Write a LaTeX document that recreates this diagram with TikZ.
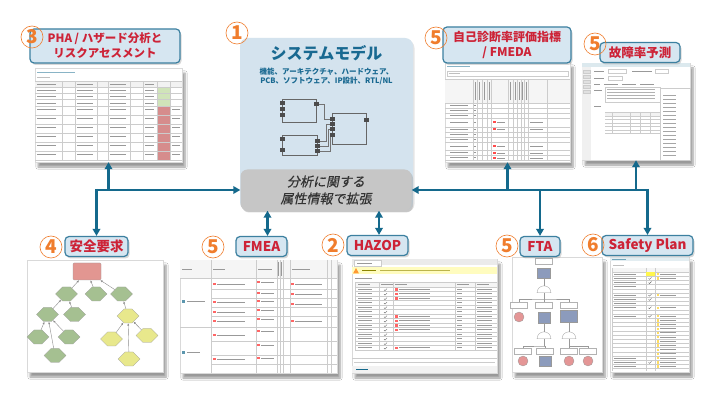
\documentclass[tikz,border=0pt]{standalone}
\usepackage{fontspec}
\setmainfont{Noto Sans CJK JP}
\newfontfamily\slantjp[FakeSlant=0.2, FakeBold=0.5]{Noto Sans CJK JP}
\usetikzlibrary{arrows.meta, positioning, shapes.geometric, shapes.symbols, shadows, shadows.blur, calc}
\definecolor{ArrowColor}{RGB}{20, 105, 140}
\definecolor{LabelFill}{RGB}{214, 230, 241}
\definecolor{LabelLine}{RGB}{60, 128, 160}
\definecolor{LabelText}{RGB}{205, 35, 55}
\definecolor{NumColor}{RGB}{240, 125, 45}
\definecolor{ModelFill}{RGB}{212, 227, 238}
\definecolor{ModelText}{RGB}{25, 105, 145}
\definecolor{AttrFill}{RGB}{198, 198, 198}
\definecolor{CellGreen}{RGB}{208, 228, 185}
\definecolor{CellRed}{RGB}{214, 140, 140}
\definecolor{TreeGreen}{RGB}{165, 192, 145}
\definecolor{TreeYellow}{RGB}{232, 232, 140}
\definecolor{TreeRed}{RGB}{226, 150, 145}
\definecolor{FtaBlue}{RGB}{140, 155, 188}
\definecolor{FtaRed}{RGB}{228, 150, 150}

\begin{document}
\begin{tikzpicture}[
    x=1pt, y=-1pt,
    namebox/.style={
        draw=LabelLine,
        fill=LabelFill,
        line width=1.2pt,
        rounded corners=4pt,
        align=center,
        inner sep=0pt,
        text=LabelText,
        font=\bfseries\fontsize{13.5}{15}\selectfont,
        drop shadow={shadow xshift=1.5pt, shadow yshift=-2pt, opacity=0.3}
    },
    num/.style={circle, draw=NumColor, line width=0.6pt, text=NumColor, minimum size=22pt, inner sep=0pt, font=\bfseries\fontsize{19}{19}\selectfont},
    shot/.style={draw=black!15, fill=white, inner sep=0pt, blur shadow={shadow xshift=3pt, shadow yshift=-5pt, shadow opacity=40, shadow blur steps=6}},
    arrow/.style={-{Triangle[length=7pt, width=7.5pt]}, line width=2.2pt, ArrowColor},
    dblarrow/.style={{Triangle[length=7pt, width=7.5pt]}-{Triangle[length=7pt, width=7.5pt]}, line width=2.2pt, ArrowColor},
    gridline/.style={draw=black!20, line width=0.4pt},
    txt/.style={draw=black!40, line width=0.8pt},
    port/.style={fill=black!70},
    block/.style={draw=black!60, line width=0.7pt},
    wire/.style={draw=black!55, line width=0.6pt},
    tnode/.style={signal, signal to=east and west, draw=black!40, line width=0.3pt, minimum width=22pt, minimum height=14pt, inner sep=0pt},
    tedge/.style={draw=black!45, line width=0.4pt, -{Latex[length=2.5pt, width=2pt]}},
    fbox/.style={draw=black!30, fill=white, line width=0.3pt, minimum width=17pt, minimum height=6pt, inner sep=0pt},
    fevent/.style={draw=black!40, fill=FtaBlue, line width=0.3pt, inner sep=0pt},
    fbasic/.style={circle, draw=black!40, fill=FtaRed, line width=0.3pt, minimum size=10pt, inner sep=0pt},
    fgate/.style={semicircle, draw=black!40, fill=white, line width=0.3pt, minimum size=7pt, inner sep=0pt},
    fline/.style={draw=black!40, line width=0.3pt}
]

\fill[white] (0,0) rectangle (713,406);
\useasboundingbox (0,0) rectangle (713,406);

% System model
\node[fill=ModelFill, rounded corners=8pt, minimum width=173pt, minimum height=172pt, inner sep=0pt,
    drop shadow={shadow xshift=1.5pt, shadow yshift=-2pt, opacity=0.2}] (model) at (326.5,124) {};
\node[font=\bfseries\fontsize{16}{18}\selectfont, text=ModelText] (model_title) at (326.5,53) {システムモデル};
\node[font=\bfseries\fontsize{7.5}{9}\selectfont, text=ModelText, align=center, below=0pt of model_title] (model_sub) {機能、アーキテクチャ、ハードウェア、\\PCB、ソフトウェア、IP設計、RTL/NL};

% block diagram
\draw[block] (282,99) rectangle (316,122);
\draw[block] (282,135) rectangle (317,155);
\draw[block] (332,113) rectangle (366,144);
\draw[wire] (318.5,104) -| (324,119) -- (329.5,119);
\draw[wire] (319.5,141) -| (326,124) -- (329.5,124);
\draw[wire] (319.5,146) -| (328,129) -- (329.5,129);
\draw[wire] (319.5,151) -| (330,135);
\foreach \p in {(282,103),(282,109),(282,115),(316,104),(282,139),(282,150),(317,141),(317,146),(317,151),(332,119),(332,124),(332,129),(332,135),(366,120)}
    \fill[port] \p ++(-2.5,-1.75) rectangle ++(5,3.5);

% Attribute extension
\node[fill=AttrFill, rounded corners=7pt, minimum width=171pt, minimum height=41pt, inner sep=0pt, align=center,
    font=\slantjp\fontsize{13}{17}\selectfont, text=black!80,
    drop shadow={shadow xshift=1.5pt, shadow yshift=-2pt, opacity=0.3}] (attr) at (326,190) {分析に関する\\属性情報で拡張};

% Screenshots
\node[shot, minimum width=147pt, minimum height=94pt] (pha_shot) at (108.5,115) {};
\node[shot, minimum width=125pt, minimum height=100pt] (fmeda_shot) at (507.5,112) {};
\node[shot, minimum width=108pt, minimum height=97pt] (rate_shot) at (636,111.5) {};
\node[shot, minimum width=136pt, minimum height=112pt] (req_shot) at (95,316) {};
\node[shot, minimum width=157pt, minimum height=113pt] (fmea_shot) at (258.5,316.5) {};
\node[shot, minimum width=145pt, minimum height=114pt] (hazop_shot) at (424.5,316) {};
\node[shot, minimum width=90pt, minimum height=115pt] (fta_shot) at (557,314.5) {};
\node[shot, minimum width=79pt, minimum height=115pt] (plan_shot) at (649.5,314.5) {};

% PHA sheet
\draw[txt, ArrowColor!50] (37,72) -- (75,72);
\draw[txt, black!25] (37,77) -- (50,77);
\fill[black!5] (35,81) rectangle (182,87);
\fill[CellGreen] (157,87) rectangle (170,106);
\fill[CellRed] (157,106) rectangle (170,160);
\foreach \y in {81,87,93.3,99.7,106,115,124,133,142,151,160} \draw[gridline] (35,\y) -- (182,\y);
\foreach \x in {62,75,97,108,130,143,157,170} \draw[gridline] (\x,81) -- (\x,160);
\foreach \y in {84,90,96.5,103,109,118,127,136,145,154} {
    \draw[txt] (37,\y) -- (56,\y);
    \draw[txt] (77,\y) -- (93,\y);
    \draw[txt] (110,\y) -- (126,\y);
    \draw[txt] (145,\y) -- (154,\y);
}
\foreach \y in {109,118,127,136,145,154} \draw[txt] (172,\y) -- (180,\y);

% FMEDA sheet
\draw[txt, ArrowColor!50] (447,66) -- (470,66);
\draw[gridline] (447,71) rectangle (568,76);
\draw[txt, black!25] (449,73.5) -- (460,73.5);
\fill[black!4] (445,79) rectangle (570,103);
\foreach \y in {79,103,108,113,118,127,132,137,142,150,155,160} \draw[gridline] (445,\y) -- (570,\y);
\foreach \x in {473,477,482,487,491,508,513,517,521,524,528,547} \draw[gridline] (\x,79) -- (\x,160);
\foreach \x in {475,479.5,484.5,489,510.5,515,519,522.5,526} \draw[txt] (\x,82) -- (\x,100);
\foreach \y in {105.5,110.5,115.5,122.5,129.5,134.5,139.5,146,152.5,157.5} {
    \draw[txt] (450,\y) -- (468,\y);
    \draw[txt] (474,\y) -- (476,\y);
}
\foreach \y in {121,128,145,152,157} {
    \fill[red!70] (493,\y) rectangle ++(2.5,2.5);
    \draw[txt] (497,\y+1.2) -- (505,\y+1.2);
    \draw[txt] (530,\y+1.2) -- (543,\y+1.2);
}

% failure rate form
\fill[ArrowColor!15] (582,63) rectangle (690,67.5);
\fill[black!6] (582,67.5) rectangle (591,160);
\foreach \y in {70,75,80,85,90} \draw[gridline, fill=black!12] (583,\y) rectangle (590,\y+3.5);
\draw[txt] (594,71.5) -- (604,71.5);
\draw[gridline] (608,69.5) rectangle (626,73.5);
\draw[txt] (632,71.5) -- (652,71.5);
\draw[gridline] (655,69.5) rectangle (668,73.5);
\draw[txt] (594,78) -- (604,78);
\draw[gridline] (608,76) rectangle (622,80);
\draw[txt] (594,84) -- (600,84);
\foreach \x in {604,622,640} \draw[txt] (\x,84) -- (\x+14,84);
\draw[gridline] (605,87) rectangle (660,102);
\foreach \y in {89.5,92.5,95.5,98.5} \draw[txt, black!30] (607,\y) -- (655,\y);
\draw[txt] (594,90) -- (602,90);
\draw[txt] (594,106) -- (601,106);
\fill[black!5] (605,112) rectangle (660,116);
\foreach \y in {112,116,119.5,123,126.5,130,133.5} \draw[gridline] (605,\y) -- (660,\y);
\foreach \x in {612,630,640,650} \draw[gridline] (\x,112) -- (\x,133.5);
\draw[gridline, fill=white] (660,88) rectangle (690,160);
\foreach \y in {95,99,103,107,111,115,119,123,127,131,135,139,143,147,151,155} \draw[txt, black!35] (663,\y) -- (676,\y);

% safety requirement tree
\node[fill=TreeRed, draw=black!40, line width=0.3pt, rounded corners=1pt, minimum width=28pt, minimum height=17pt] (t_root) at (87,271.5) {};
\node[tnode, fill=TreeGreen] (t_a) at (66.5,294) {};
\node[tnode, fill=TreeGreen] (t_b) at (96,294) {};
\node[tnode, fill=TreeGreen] (t_c) at (121.5,294) {};
\node[tnode, fill=TreeGreen] (t_d) at (47.5,314.5) {};
\node[tnode, fill=TreeGreen] (t_e) at (74.5,314.5) {};
\node[tnode, fill=TreeYellow] (t_f) at (128,316) {};
\node[tnode, fill=TreeGreen] (t_g) at (38,337) {};
\node[tnode, fill=TreeGreen] (t_h) at (69,337) {};
\node[tnode, fill=TreeGreen] (t_i) at (55,355.5) {};
\node[tnode, fill=TreeYellow] (t_j) at (111.5,339) {};
\node[tnode, fill=TreeYellow] (t_k) at (147,335.5) {};
\node[tnode, fill=TreeYellow] (t_l) at (129,359) {};
\foreach \c/\p in {t_a/t_root, t_b/t_root, t_c/t_root, t_d/t_a, t_e/t_a, t_f/t_c, t_g/t_d, t_h/t_d, t_i/t_d, t_j/t_f, t_k/t_f, t_l/t_f}
    \draw[tedge] (\c) -- (\p);

% FMEA sheet
\fill[black!4] (180,260) rectangle (337,278);
\foreach \x in {211,256,277,280,283,290,327,331} \draw[gridline] (\x,260) -- (\x,373);
\draw[gridline] (180,278) -- (337,278);
\draw[gridline] (180,327) -- (337,327);
\foreach \y in {289,298,307,316,341,355,364} \draw[gridline] (211,\y) -- (337,\y);
\draw[txt] (182,269) -- (192,269);
\draw[txt] (213,269) -- (225,269);
\draw[txt] (258,269) -- (272,269);
\draw[txt] (292,269) -- (310,269);
\foreach \x in {278.5,281.5} \draw[txt] (\x,262) -- (\x,276);
\fill[ArrowColor!70] (182,300) rectangle ++(3,3);
\draw[txt] (187,301.5) -- (205,301.5);
\fill[ArrowColor!70] (182,351) rectangle ++(3,3);
\draw[txt] (187,352.5) -- (200,352.5);
\foreach \y in {283,301,311,320,334,358} {
    \fill[red!60] (213,\y) rectangle ++(2.5,2.5);
    \draw[txt] (217,\y+1.2) -- (245,\y+1.2);
}
\foreach \y in {281,292,300,309,318,330,344,357} {
    \fill[red!60] (257,\y) rectangle ++(2.5,2.5);
    \draw[txt] (261,\y+1.2) -- (274,\y+1.2);
}
\foreach \y in {283,293,303,320} {
    \fill[red!60] (291,\y) rectangle ++(2.5,2.5);
    \draw[txt] (295,\y+1.2) -- (322,\y+1.2);
}

% HAZOP checklist
\fill[black!8] (352,259) rectangle (497,265.5);
\draw[gridline, fill=white] (354,260) rectangle (381,266);
\draw[txt] (357,263) -- (372,263);
\fill[yellow!25] (352,267) rectangle (497,274.5);
\fill[orange!80] (356,268) -- (359,273.5) -- (353,273.5) -- cycle;
\draw[txt, olive] (362,270.8) -- (376,270.8);
\draw[txt, olive!60] (380,270.8) -- (450,270.8);
\draw[txt] (355,278) -- (372,278);
\fill[black!4] (355,282) rectangle (497,287);
\draw[gridline] (355,282) -- (497,282);
\foreach \i in {0,...,14} \draw[gridline] (355,287+4.5*\i) -- (497,287+4.5*\i);
\foreach \x in {355,379,393,455,475} \draw[gridline] (\x,282) -- (\x,350);
\foreach \x in {358,381,395,457,477} \draw[txt] (\x,284.5) -- (\x+12,284.5);
\foreach \i in {0,...,13} {
    \draw[txt] (358,289.3+4.5*\i) -- (372,289.3+4.5*\i);
    \draw[txt] (457,289.3+4.5*\i) -- (462,289.3+4.5*\i);
    \draw[txt] (477,289.3+4.5*\i) -- (492,289.3+4.5*\i);
    \draw[black!60, line width=0.4pt] (384,289.8+4.5*\i) -- ++(1,0.8) -- ++(2,-2);
}
\foreach \i in {0,1,2,6,7,8,9,13} {
    \fill[red!60] (395,288.2+4.5*\i) rectangle ++(2.5,2.5);
    \draw[txt] (399,289.3+4.5*\i) -- (430,289.3+4.5*\i);
}
\draw[gridline] (352,358) -- (497,358);
\draw[gridline] (354,362) -- (495,362);
\fill[black!5] (352,366) rectangle (497,373);
\draw[txt, ArrowColor] (356,369.5) -- (368,369.5);

% fault tree
\node[fbox] (f_top_t) at (544,261.5) {};
\node[fevent, minimum width=13pt, minimum height=10pt] (f_top) at (544,273) {};
\node[fgate] (f_g1) at (544,290) {};
\node[fbox] (f_e1t) at (519,305) {};
\node[fbox] (f_e2t) at (544,305) {};
\node[fbox] (f_e3t) at (569,305) {};
\node[fbasic] (f_e1) at (519,317) {};
\node[fevent, minimum width=12pt, minimum height=11pt] (f_e2) at (544,318) {};
\node[fevent, minimum width=17pt, minimum height=12pt] (f_e3) at (569,316) {};
\node[fgate] (f_g2) at (544,336) {};
\node[fgate] (f_g3) at (569,336) {};
\node[fbox] (f_e4t) at (523,351.5) {};
\node[fbox] (f_e5t) at (545,351.5) {};
\node[fbox] (f_e6t) at (569,351.5) {};
\node[fbox] (f_e7t) at (588,351.5) {};
\node[fbasic] (f_e4) at (523,361) {};
\node[fevent, minimum width=12pt, minimum height=10pt] (f_e5) at (545,361) {};
\node[fbasic] (f_e6) at (569,361) {};
\node[fbasic] (f_e7) at (588,361) {};
\draw[fline] (f_top) -- (f_g1);
\draw[fline] (f_g1.south) -- (544,299);
\draw[fline] (f_e1t.north) |- (544,299) -| (f_e3t.north);
\draw[fline] (544,299) -- (f_e2t.north);
\draw[fline] (f_e2) -- (f_g2);
\draw[fline] (f_e3) -- (f_g3);
\draw[fline] (f_g2.south) -- (544,346);
\draw[fline] (f_g3.south) -- (569,346);
\draw[fline] (f_e4t.north) |- (544,346) -| (f_e5t.north);
\draw[fline] (f_e6t.north) |- (588,346) -- (f_e7t.north);

% safety plan checklist
\fill[ArrowColor!12] (610,257) rectangle (689,261.5);
\draw[txt, ArrowColor!60] (612,259.3) -- (626,259.3);
\draw[txt, black!25] (613,265) -- (624,265);
\fill[black!4] (612,268) rectangle (689,272);
\foreach \x in {612,646,655} \draw[gridline] (\x,268) -- (\x,371);
\foreach \i in {0,...,23} \draw[gridline] (612,272+4.2*\i) -- (689,272+4.2*\i);
\fill[yellow!70] (646.2,272.2) rectangle (654.8,276);
\foreach \i in {0,1,2,3,5,6,7,8,10,20,21,22} \draw[txt] (614,274.1+4.2*\i) -- (636,274.1+4.2*\i);
\foreach \i in {1,2,5,6,8,10,21} \draw[black!60, line width=0.4pt] (648.5,274.3+4.2*\i) -- ++(1,0.8) -- ++(2,-2);
\foreach \i in {0,1,5,8,10,11,12,13,14,15,16,17,18,19,20,21,22} {
    \fill[yellow!60!orange!60] (656.5,273+4.2*\i) rectangle ++(2.5,2.5);
    \draw[txt] (660,274.1+4.2*\i) -- (676,274.1+4.2*\i);
}

% Tool names
\node[namebox, minimum width=150pt, minimum height=34pt, font=\bfseries\fontsize{11.5}{15}\selectfont] (pha_name) at (105,46) {PHA / ハザード分析と\\リスクアセスメント};
\node[namebox, minimum width=128pt, minimum height=36pt, font=\bfseries\fontsize{12}{15.5}\selectfont] (fmeda_name) at (507,45) {自己診断率評価指標\\/ FMEDA};
\node[namebox, minimum width=80pt, minimum height=20pt, font=\bfseries\fontsize{12.5}{15}\selectfont] (rate_name) at (640,52.5) {故障率予測};
\node[namebox, minimum width=63pt, minimum height=20pt] (req_name) at (96.5,246.5) {安全要求};
\node[namebox, minimum width=51pt, minimum height=20pt] (fmea_name) at (261.5,246.5) {FMEA};
\node[namebox, minimum width=61pt, minimum height=20pt] (hazop_name) at (377.5,245.5) {HAZOP};
\node[namebox, minimum width=40pt, minimum height=20pt] (fta_name) at (540,246.5) {FTA};
\node[namebox, minimum width=91pt, minimum height=20pt] (plan_name) at (647.5,245.5) {Safety Plan};

% Step numbers
\node[num] (num_pha) at (32,37) {3};
\node[num] (num_model) at (237,33) {1};
\node[num] (num_fmeda) at (436,38) {5};
\node[num] (num_rate) at (595,44) {5};
\node[num] (num_req) at (51,247) {4};
\node[num] (num_fmea) at (213,247) {5};
\node[num] (num_hazop) at (333,245) {2};
\node[num] (num_fta) at (507,246) {5};
\node[num] (num_plan) at (593,245) {6};

% Connections
\coordinate (hub_left) at (req_name.north |- attr.west);
\coordinate (hub_right) at (plan_name.north |- attr.east);
\draw[arrow] (hub_left) -- (attr.west);
\draw[arrow] ([yshift=1.1pt]hub_left) -- (req_name.north);
\draw[arrow] (pha_shot.south |- hub_left) -- (pha_shot.south);
\draw[arrow] (hub_right) -- (attr.east);
\draw[arrow] ([yshift=1.1pt]hub_right) -- (plan_name.north);
\draw[arrow] (fmeda_shot.south |- hub_right) -- (fmeda_shot.south);
\draw[arrow] (rate_shot.south |- hub_right) -- (rate_shot.south);
\draw[arrow] (fta_name.north |- hub_right) -- (fta_name.north);
\draw[dblarrow] ([xshift=6pt]fmea_name.north) -- ([xshift=6pt]fmea_name.north |- attr.south);
\draw[dblarrow] ([xshift=1.5pt]hazop_name.north) -- ([xshift=1.5pt]hazop_name.north |- attr.south);

\end{tikzpicture}
\end{document}
